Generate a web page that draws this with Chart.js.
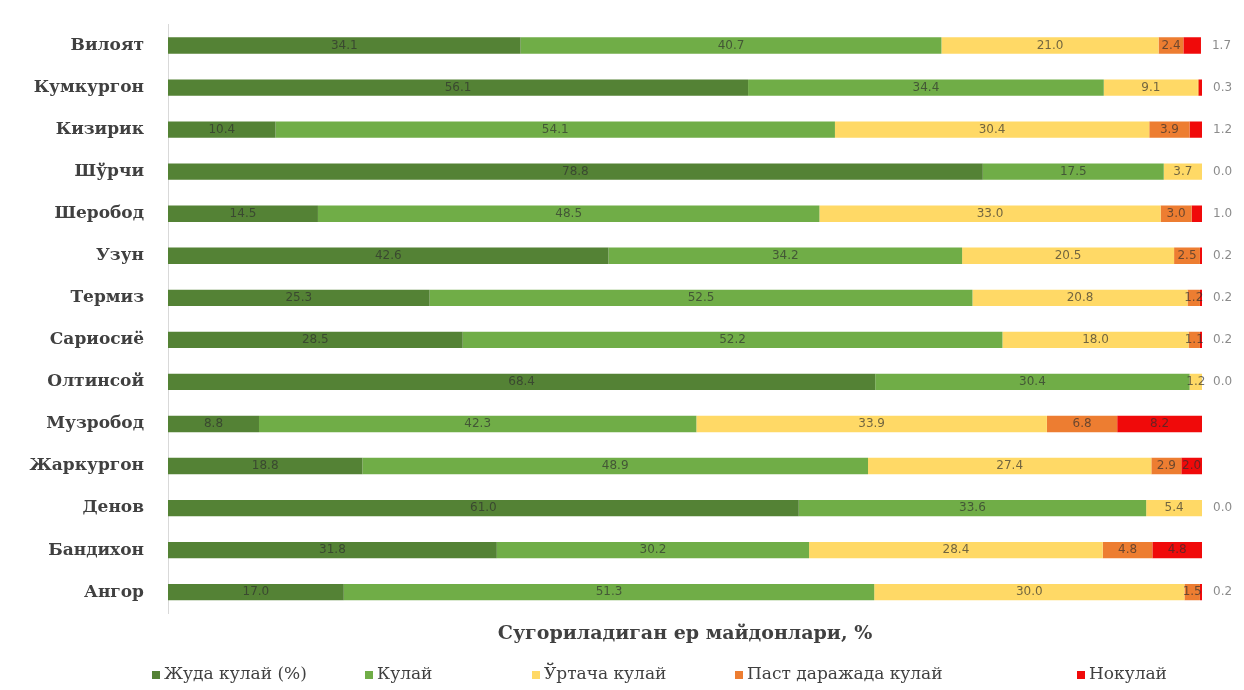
<!DOCTYPE html>
<html>
<head>
<meta charset="utf-8">
<script src="https://cdn.jsdelivr.net/npm/chart.js@4"></script>
<style>
  html, body { margin: 0; padding: 0; background: #fff; }
  #wrap { width: 1244px; height: 690px; position: relative; }
</style>
</head>
<body>
<div id="wrap"><canvas id="barCanvas"></canvas></div>
<script>
// туманлар
var districts = ["Вилоят", "Кумкургон", "Кизирик", "Шўрчи", "Шеробод", "Узун", "Термиз",
  "Сариосиё", "Олтинсой", "Музробод", "Жаркургон", "Денов", "Бандихон", "Ангор"];

var seriesNames = ["Жуда кулай (%)", "Кулай", "Ўртача кулай", "Паст даражада кулай", "Нокулай"];

// % qiymatlar
var judaQulay   = [34.1, 56.1, 10.4, 78.8, 14.5, 42.6, 25.3, 28.5, 68.4, 8.8, 18.8, 61.0, 31.8, 17.0];
var qulay       = [40.7, 34.4, 54.1, 17.5, 48.5, 34.2, 52.5, 52.2, 30.4, 42.3, 48.9, 33.6, 30.2, 51.3];
var urtacha     = [21.0, 9.1, 30.4, 3.7, 33.0, 20.5, 20.8, 18.0, 1.2, 33.9, 27.4, 5.4, 28.4, 30.0];
var pastDaraja  = [2.4, 0.1, 3.9, 0.0, 3.0, 2.5, 1.2, 1.1, 0.0, 6.8, 2.9, 0.0, 4.8, 1.5];
var noqulay     = [1.7, 0.3, 1.2, 0.0, 1.0, 0.2, 0.2, 0.2, 0.0, 8.2, 2.0, 0.0, 4.8, 0.2];

var colors = ["#548235", "#70ad47", "#ffd966", "#ed7d31", "#f00a0a"];
var allValues = [judaQulay, qulay, urtacha, pastDaraja, noqulay];

var datasets = allValues.map(function (vals, i) {
  return {
    label: seriesNames[i],
    data: vals,
    backgroundColor: colors[i],
    borderWidth: 0,
    barPercentage: 0.39,
    categoryPercentage: 1.0
  };
});

// bar ichidagi va oxiridagi raqamlar
var valueLabels = {
  id: "valueLabels",
  afterDatasetsDraw: function (chart) {
    var ctx = chart.ctx;
    var last = chart.data.datasets.length - 1;
    ctx.save();
    ctx.font = "12px 'DejaVu Sans'";
    ctx.textBaseline = "middle";
    chart.data.datasets.forEach(function (ds, di) {
      var meta = chart.getDatasetMeta(di);
      meta.data.forEach(function (bar, i) {
        var v = ds.data[i];
        var txt = v.toFixed(1);
        if (di === last && v < 2) {
          ctx.fillStyle = "#8c8c8c";
          ctx.textAlign = "left";
          ctx.fillText(txt, bar.x + 11, bar.y);
          return;
        }
        if (v < 0.5) return;
        ctx.fillStyle = "rgba(45,45,45,0.68)";
        ctx.textAlign = "center";
        ctx.fillText(txt, (bar.x + bar.base) / 2, bar.y);
      });
    });
    ctx.restore();
  }
};

// pastdagi legenda
var legendRow = {
  id: "legendRow",
  afterDraw: function (chart) {
    var ctx = chart.ctx;
    var xs = [152, 365, 532, 735, 1077];
    var y = 675;
    ctx.save();
    ctx.font = "17px 'DejaVu Serif'";
    ctx.textBaseline = "middle";
    ctx.textAlign = "left";
    chart.data.datasets.forEach(function (ds, i) {
      ctx.fillStyle = ds.backgroundColor;
      ctx.fillRect(xs[i], y - 4, 8, 8);
      ctx.fillStyle = "#404040";
      ctx.fillText(ds.label, xs[i] + 12, y);
    });
    ctx.restore();
  }
};

var context = document.getElementById("barCanvas").getContext("2d");

var barChart = new Chart(context, {
  type: "bar",
  data: {
    labels: districts,
    datasets: datasets
  },
  options: {
    indexAxis: "y",
    responsive: true,
    maintainAspectRatio: false,
    animation: false,
    layout: {
      padding: { top: 14, right: 42, bottom: 45, left: 0 }
    },
    scales: {
      x: {
        stacked: true,
        min: 0,
        max: 100,
        ticks: { display: false },
        grid: { display: false },
        border: { display: false },
        title: {
          display: true,
          text: "Сугориладиган ер майдонлари, %",
          color: "#404040",
          font: { family: "'DejaVu Serif'", size: 19, weight: "bold" },
          padding: { top: 1, bottom: 0 }
        }
      },
      y: {
        stacked: true,
        grid: { display: false },
        border: { display: true, color: "#d9d9d9", width: 1 },
        ticks: {
          color: "#404040",
          padding: 16,
          font: { family: "'DejaVu Serif'", size: 17, weight: "bold", lineHeight: 1 }
        },
        afterFit: function (scale) { scale.width = 168; }
      }
    },
    plugins: {
      legend: { display: false },
      tooltip: { enabled: false }
    }
  },
  plugins: [valueLabels, legendRow]
});
</script>
</body>
</html>
